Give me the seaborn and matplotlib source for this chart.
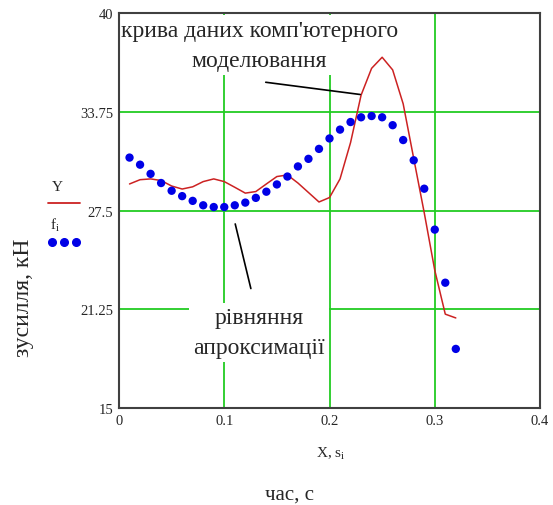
import numpy as np
import matplotlib.pyplot as plt
import seaborn as sns
from matplotlib.lines import Line2D

# fitted approximation curve (dots) and simulation curve (red line)
s_i = [0.01, 0.02, 0.03, 0.04, 0.05, 0.06, 0.07, 0.08, 0.09, 0.10, 0.11,
       0.12, 0.13, 0.14, 0.15, 0.16, 0.17, 0.18, 0.19, 0.20, 0.21, 0.22,
       0.23, 0.24, 0.25, 0.26, 0.27, 0.28, 0.29, 0.30, 0.31, 0.32]
f_i = [30.85, 30.4, 29.82, 29.24, 28.75, 28.41, 28.11, 27.83, 27.72, 27.72,
       27.83, 28.0, 28.3, 28.69, 29.15, 29.65, 30.29, 30.77, 31.4, 32.06,
       32.62, 33.1, 33.4, 33.48, 33.4, 32.9, 31.96, 30.68, 28.88, 26.29,
       22.93, 18.74]

X = [0.01, 0.02, 0.03, 0.04, 0.05, 0.06, 0.07, 0.08, 0.09, 0.10, 0.11,
     0.12, 0.13, 0.14, 0.15, 0.16, 0.17, 0.18, 0.19, 0.20, 0.21, 0.22,
     0.23, 0.24, 0.25, 0.26, 0.27, 0.28, 0.29, 0.30, 0.31, 0.32]
Y = [29.18, 29.45, 29.5, 29.4, 29.05, 28.86, 29.0, 29.33, 29.5, 29.33, 28.97,
     28.6, 28.7, 29.18, 29.65, 29.75, 29.24, 28.64, 28.04, 28.32, 29.5, 31.8,
     34.8, 36.5, 37.2, 36.4, 34.25, 30.8, 27.36, 23.72, 20.94, 20.7]

x_ticks = [0, 0.1, 0.2, 0.3, 0.4]
x_labels = ["0", "0.1", "0.2", "0.3", "0.4"]
y_ticks = [15, 21.25, 27.5, 33.75, 40]
y_labels = ["15", "21.25", "27.5", "33.75", "40"]

sns.set_style("white")
plt.rcParams['font.family'] = ['Liberation Serif', 'DejaVu Serif']
plt.rcParams['mathtext.fontset'] = 'custom'
plt.rcParams['mathtext.rm'] = 'Liberation Serif'
plt.rcParams['mathtext.it'] = 'Liberation Serif'

fig = plt.figure(figsize=(5.53, 5.06), dpi=100)
ax = fig.add_axes([0.2152, 0.1917, 0.7613, 0.7806])

red = "#cc2222"
blue = "#0000e6"
green = "#22cc22"

sns.lineplot(x=X, y=Y, ax=ax, color=red, linewidth=1.1, zorder=3)
sns.scatterplot(x=s_i, y=f_i, ax=ax, color=blue, s=36, edgecolor="none", zorder=4)

ax.set_xlim(0, 0.4)
ax.set_ylim(15, 40)
ax.set_xticks(x_ticks)
ax.set_xticklabels(x_labels)
ax.set_yticks(y_ticks)
ax.set_yticklabels(y_labels)
ax.tick_params(length=0, labelsize=10.5, pad=4)
ax.grid(True, color=green, linewidth=1.3)
for sp in ax.spines.values():
    sp.set_color("#404040")
    sp.set_linewidth(1.5)

# text notes with white boxes over the grid
ax.text(0.1333, 37.95, "крива даних комп'ютерного\nмоделювання", ha="center", va="center",
        fontsize=17, linespacing=1.6, zorder=2.2,
        bbox=dict(facecolor="white", edgecolor="none", pad=3))
ax.annotate("", xy=(0.2318, 34.82), xytext=(0.1368, 35.64),
            arrowprops=dict(arrowstyle="-", color="black", lw=1.2))

ax.text(0.1334, 19.8, "рівняння\nапроксимації", ha="center", va="center",
        fontsize=17, linespacing=1.55, zorder=2.2,
        bbox=dict(facecolor="white", edgecolor="none", pad=3))
ax.annotate("", xy=(0.1259, 22.39), xytext=(0.1098, 26.82),
            arrowprops=dict(arrowstyle="-", color="black", lw=1.2))

# trace labels on the left
fig.text(0.103, 0.6285, "Y", ha="center", va="center", fontsize=11)
fig.add_artist(Line2D([0.0868, 0.1447], [0.5968, 0.5968], color=red, lw=1.3))
fig.text(0.0995, 0.5553, r"f$_\mathregular{i}$", ha="center", va="center", fontsize=11)
fig.add_artist(Line2D([0.094, 0.115, 0.137], [0.5204, 0.5204, 0.5204], color=blue,
                      lw=0, marker="o", markersize=5.5))

fig.text(0.5986, 0.1028, r"X, s$_\mathregular{i}$", ha="center", va="center", fontsize=11)
fig.text(0.0416, 0.411, "зусилля, кН", rotation=90, ha="center", va="center", fontsize=17)
fig.text(0.524, 0.021, "час, с", ha="center", va="center", fontsize=15)

fig.savefig("out.png", dpi=100)
